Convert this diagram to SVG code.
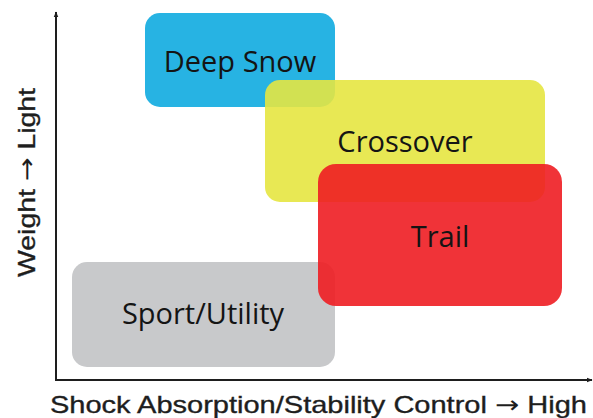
<svg xmlns="http://www.w3.org/2000/svg" width="593" height="418" viewBox="0 0 593 418">
<style>
.box{stroke:none}
.lbl{font-family:"Open Sans","Noto Sans",sans-serif;font-size:29px;fill:#141414;text-anchor:middle}
.ax{font-family:"Liberation Sans",Arial,sans-serif;font-size:24px;fill:#1e1e1e;stroke:#1e1e1e;stroke-width:0.35}
.arr{font-family:"DejaVu Sans",sans-serif;stroke-width:0}
.axis{stroke:#1e1e1e;stroke-width:2;fill:none}
</style>
<defs>
<marker id="ah" viewBox="0 0 10 10" refX="9" refY="5" markerWidth="6" markerHeight="6" orient="auto" markerUnits="userSpaceOnUse">
<path d="M0,1 L10,5 L0,9 Z" fill="#1e1e1e"/>
</marker>
</defs>
<rect width="593" height="418" fill="#ffffff"/>
<g id="connectors">
<path class="axis" d="M56,380 L56,12" marker-end="url(#ah)"/>
<path class="axis" d="M55,380 L592,380" marker-end="url(#ah)"/>
</g>
<g id="sport-utility">
<rect class="box" x="72" y="262" width="263" height="105" rx="15" fill="#c8c9cb"/>
<text class="lbl" x="203" y="324">Sport/Utility</text>
</g>
<g id="deep-snow">
<rect class="box" x="145" y="13" width="190" height="94" rx="15" fill="#27b3e3"/>
<text class="lbl" x="240" y="72">Deep Snow</text>
</g>
<g id="crossover">
<rect class="box" x="265" y="80" width="280" height="122" rx="15" fill="#e6e641" fill-opacity="0.9"/>
<text class="lbl" x="405" y="152">Crossover</text>
</g>
<g id="trail">
<rect class="box" x="318" y="164" width="244" height="142" rx="18" fill="#ee1d22" fill-opacity="0.9"/>
<text class="lbl" x="440" y="247">Trail</text>
</g>
<g id="axis-labels">
<text class="ax" x="50" y="413" textLength="537" lengthAdjust="spacingAndGlyphs">Shock Absorption/Stability Control  <tspan class="arr">→</tspan> High</text>
<text class="ax" transform="translate(35,277) rotate(-90)" x="0" y="0" textLength="189" lengthAdjust="spacingAndGlyphs">Weight <tspan class="arr">→</tspan> Light</text>
</g>
</svg>
